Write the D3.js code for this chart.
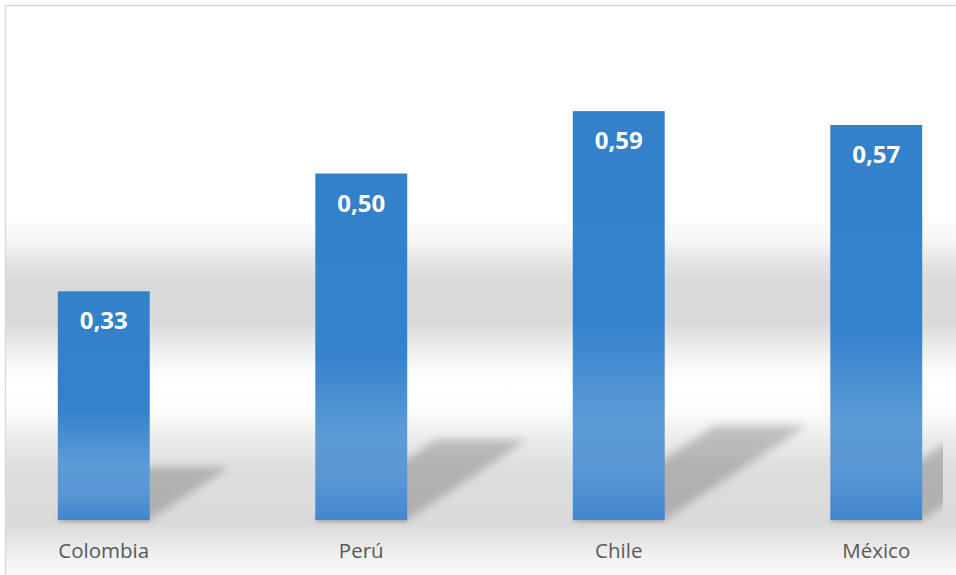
<!DOCTYPE html>
<html>
<head>
<meta charset="utf-8">
<script src="https://cdn.jsdelivr.net/npm/d3@7"></script>
<style>
  html, body { margin: 0; padding: 0; background: #fff; }
  svg { display: block; }
</style>
</head>
<body>
<div id="grafico"></div>
<script>
// Dados do gráfico
const paises = ["Colombia", "Perú", "Chile", "México"];
const valores = [0.33, 0.50, 0.59, 0.57];
const rotulos = ["0,33", "0,50", "0,59", "0,57"];

const largura = 956, altura = 575;
const base = 520;          // linha de base das barras
const limiteDireito = 943; // recorte da área de plotagem

const svg = d3.select("#grafico").append("svg")
    .attr("width", largura)
    .attr("height", altura);

const defs = svg.append("defs");

// Fundo com faixas cinzas (gradiente vertical)
const faixas = [
  [5, "#ffffff"], [215, "#ffffff"], [240, "#f6f6f6"], [262, "#e4e4e4"],
  [282, "#d9d9d9"], [322, "#d9d9d9"], [345, "#ebebeb"], [370, "#fbfbfb"],
  [390, "#ffffff"], [412, "#fcfcfc"], [438, "#ececec"], [468, "#dedede"],
  [522, "#dadada"], [540, "#e5e5e5"], [560, "#f3f3f3"], [575, "#fafafa"]
];
const gradFundo = defs.append("linearGradient")
    .attr("id", "fundo")
    .attr("gradientUnits", "userSpaceOnUse")
    .attr("x1", 0).attr("x2", 0).attr("y1", 5).attr("y2", 575);
faixas.forEach(([y, cor]) => {
  gradFundo.append("stop").attr("offset", (y - 5) / 570).attr("stop-color", cor);
});

// Gradiente das barras
const gradBarra = defs.append("linearGradient")
    .attr("id", "barra")
    .attr("x1", 0).attr("x2", 0).attr("y1", 0).attr("y2", 1);
[[0, "#3481cb"], [0.52, "#3582cc"], [0.75, "#5b9bd6"], [0.88, "#5897d4"], [1, "#4186ce"]]
  .forEach(([o, c]) => gradBarra.append("stop").attr("offset", o).attr("stop-color", c));

// Desfoque da sombra
defs.append("filter").attr("id", "desfoque")
    .attr("x", "-30%").attr("y", "-30%").attr("width", "160%").attr("height", "160%")
  .append("feGaussianBlur").attr("stdDeviation", 4);
defs.append("filter").attr("id", "desfoque2")
    .attr("x", "-10%").attr("y", "-50%").attr("width", "120%").attr("height", "200%")
  .append("feGaussianBlur").attr("stdDeviation", 1.2);

defs.append("clipPath").attr("id", "recorte")
  .append("rect").attr("x", 0).attr("y", 0).attr("width", limiteDireito).attr("height", altura);

svg.append("rect")
    .attr("x", 5.5).attr("y", 5.5)
    .attr("width", 1000).attr("height", 700)
    .attr("fill", "url(#fundo)")
    .attr("stroke", "#d9d9d9")
    .attr("stroke-width", 1.5);

// Escalas
const eixoX = d3.scaleBand()
    .domain(paises)
    .range([-25, 1005])
    .paddingInner(0.643)
    .paddingOuter(0.3215);

const eixoY = d3.scaleLinear()
    .domain([0, 0.7])
    .range([base, base - 0.7 * 693]);

const dados = paises.map((p, i) => ({ pais: p, valor: valores[i], rotulo: rotulos[i] }));

// Sombras em perspectiva
const sombras = svg.append("g").attr("clip-path", "url(#recorte)");
sombras.selectAll("polygon")
  .data(dados)
  .join("polygon")
    .attr("points", d => {
      const x0 = eixoX(d.pais), w = eixoX.bandwidth();
      const h = eixoY(0) - eixoY(d.valor);
      const sh = h * 0.232, off = sh * 1.5;
      return [[x0, base], [x0 + w, base], [x0 + w + off, base - sh], [x0 + off, base - sh]]
        .map(p => p.join(",")).join(" ");
    })
    .attr("fill", "#000")
    .attr("fill-opacity", 0.2)
    .attr("filter", "url(#desfoque)");

// Sombra fina sob as barras
svg.append("g").selectAll("rect")
  .data(dados)
  .join("rect")
    .attr("x", d => eixoX(d.pais))
    .attr("y", base - 1)
    .attr("width", eixoX.bandwidth())
    .attr("height", 3.5)
    .attr("fill", "#000")
    .attr("fill-opacity", 0.12)
    .attr("filter", "url(#desfoque2)");

// Barras
svg.append("g").selectAll("rect")
  .data(dados)
  .join("rect")
    .attr("x", d => eixoX(d.pais))
    .attr("y", d => eixoY(d.valor))
    .attr("width", eixoX.bandwidth())
    .attr("height", d => eixoY(0) - eixoY(d.valor))
    .attr("fill", "url(#barra)");

// Rótulos de valor
svg.append("g").selectAll("text")
  .data(dados)
  .join("text")
    .attr("x", d => eixoX(d.pais) + eixoX.bandwidth() / 2)
    .attr("y", d => eixoY(d.valor) + 38)
    .attr("text-anchor", "middle")
    .attr("font-family", "'Open Sans', sans-serif")
    .attr("font-weight", "bold")
    .attr("font-size", 24)
    .attr("fill", "#ffffff")
    .text(d => d.rotulo);

// Rótulos das categorias
svg.append("g").selectAll("text")
  .data(dados)
  .join("text")
    .attr("x", d => eixoX(d.pais) + eixoX.bandwidth() / 2)
    .attr("y", 558)
    .attr("text-anchor", "middle")
    .attr("font-family", "'Open Sans', sans-serif")
    .attr("font-size", 20.5)
    .attr("fill", "#595959")
    .text(d => d.pais);
</script>
</body>
</html>
